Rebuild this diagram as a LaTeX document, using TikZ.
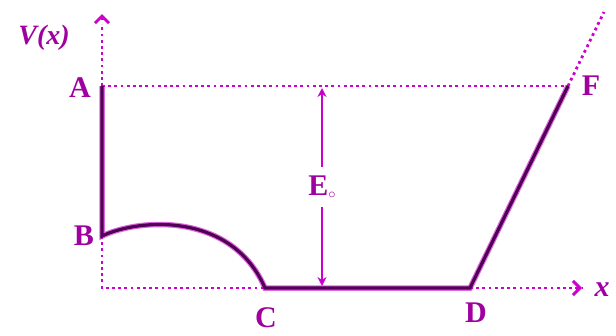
\documentclass[tikz,border=0pt]{standalone}
\usepackage{fontspec}
\setmainfont{Liberation Serif}
\usetikzlibrary{arrows.meta}
\definecolor{mag}{RGB}{205,0,205}
\definecolor{dk}{RGB}{80,0,85}
\definecolor{txt}{RGB}{160,0,160}
\tikzset{
  solidln/.style={draw=dk,line width=3.2pt,preaction={draw=mag,line width=5.5pt,opacity=0.6}},
  dotln/.style={draw=mag,line width=2.8pt,dash pattern=on 2.8pt off 3.4pt},
  lbl/.style={text=txt,font=\fontsize{30}{34}\selectfont\bfseries,inner sep=0pt},
  axarrow/.style={-{Straight Barb[length=7pt,width=14pt,line width=3pt]}},
}
\begin{document}
\begin{tikzpicture}[x=1pt,y=-1pt]
\useasboundingbox (0,0) rectangle (616,335);
\coordinate (O) at (102,288);
\coordinate (A) at (102,86);
\coordinate (B) at (102,236);
\coordinate (C) at (265,288);
\coordinate (D) at (470,288);
\coordinate (F) at (568,86);
\coordinate (Ftop) at (604,12);
\coordinate (Ytop) at (102,14);
\coordinate (Xend) at (582,288);
\coordinate (Et) at (322,88);
\coordinate (Eb) at (322,286);
% axes
\draw[dotln] (B) -- (O) -- (C);
\draw[dotln] (D) -- (Xend);
\draw[draw=mag,line width=3pt,axarrow] (576,288) -- (Xend);
\draw[dotln] (A) -- (102,24);
\draw[draw=mag,line width=3pt,axarrow] (102,20) -- (Ytop);
\draw[dotln] (A) -- (F);
\draw[dotln] (F) -- (Ftop);
% potential
\draw[solidln] (A) -- (B) .. controls (140,218) and (232,212) .. (C) -- (D) -- (F);
% E0 arrow
\draw[draw=mag,line width=2.4pt,{Stealth[length=9pt,width=9pt,fill=dk]}-{Stealth[length=9pt,width=9pt,fill=dk]}] (Et) -- (Eb)
  node[pos=0.5,fill=white,inner xsep=2pt,inner ysep=9pt,text=txt,font=\fontsize{30}{34}\selectfont\bfseries] (E0) {E\raisebox{-3pt}{\fontsize{14}{14}\selectfont$\circ$}};
% labels
\node[lbl,font=\fontsize{28}{32}\selectfont\bfseries\itshape] (vx) at (44,38) {V(x)};
\node[lbl] (la) at (80,88) {A};
\node[lbl] (lb) at (84,236) {B};
\node[lbl] (lc) at (266,318) {C};
\node[lbl] (ld) at (476,313) {D};
\node[lbl] (lf) at (591,86) {F};
\node[lbl,font=\fontsize{30}{34}\selectfont\bfseries\itshape] (lx) at (602,290) {x};
\end{tikzpicture}
\end{document}
